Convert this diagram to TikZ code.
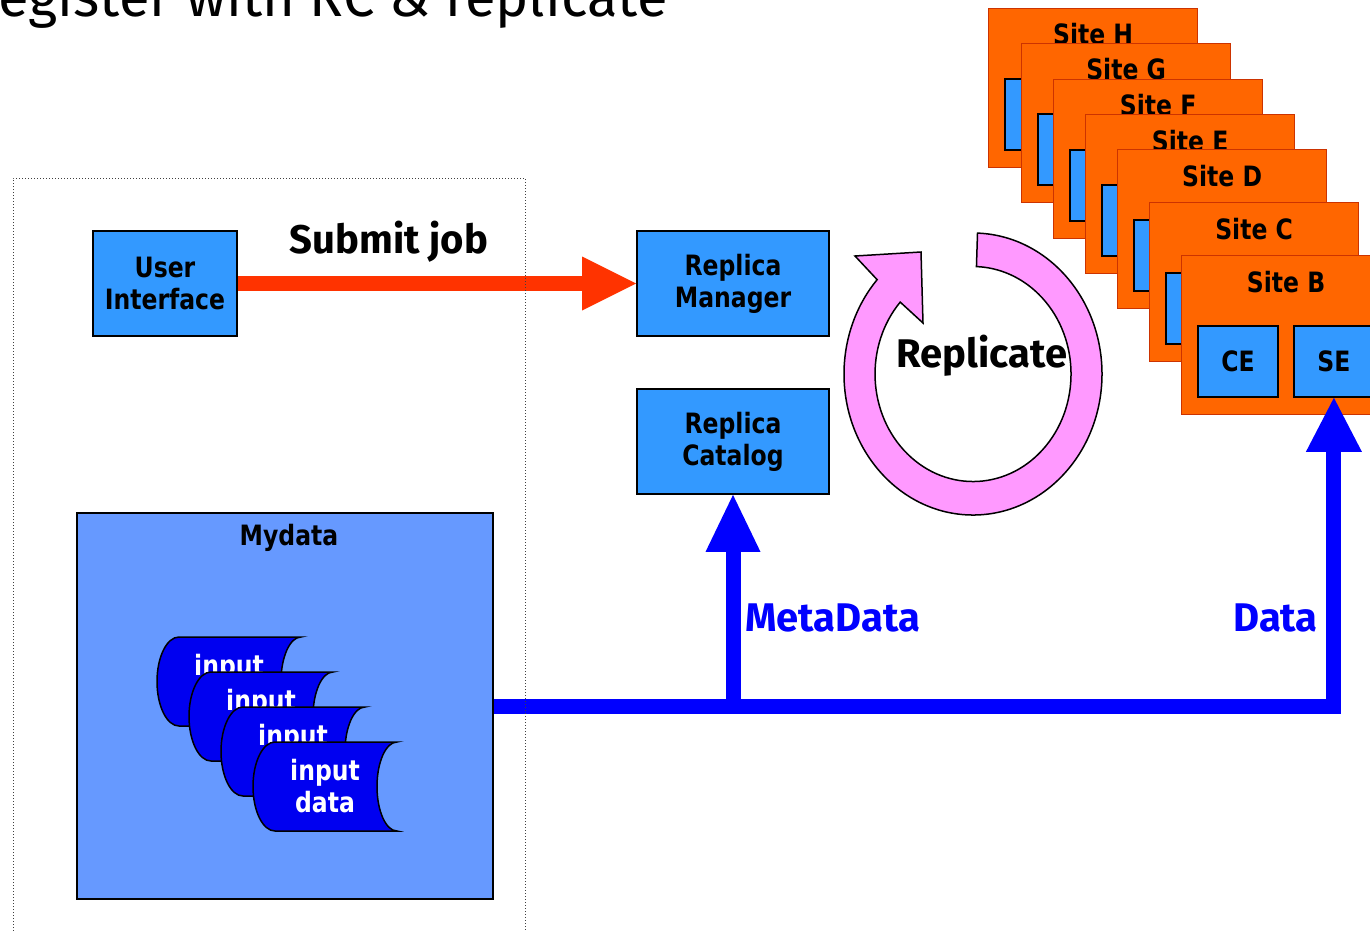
\documentclass[tikz,border=0pt]{standalone}
\usepackage{fontspec}
\usetikzlibrary{arrows.meta}
\newfontfamily\boxfont{DejaVu Sans}[FakeStretch=0.84]
\newfontfamily\comicfont{Fira Sans}
\definecolor{siteorange}{HTML}{FF6600}
\definecolor{siteedge}{HTML}{CC3300}
\definecolor{boxblue}{HTML}{3399FF}
\definecolor{mydatablue}{HTML}{6699FF}
\definecolor{pureblue}{HTML}{0000FF}
\definecolor{inblue}{HTML}{0000F0}
\definecolor{arrowred}{HTML}{FF3300}
\definecolor{ringpink}{HTML}{FF99FF}
\begin{document}
\begin{tikzpicture}[x=1pt,y=1pt,
  boxtext/.style={font=\boxfont\bfseries\fontsize{28}{32}\selectfont, align=center},
  bx/.style={boxtext, draw=black, line width=1.8pt, fill=boxblue, inner sep=0pt},
  sitebox/.style={draw=siteedge, line width=1.2pt, fill=siteorange, minimum width=209pt, minimum height=159pt, inner sep=0pt, anchor=north west},
  smallbox/.style={bx, minimum width=80pt, minimum height=71pt, anchor=north west},
  inshape/.style={draw=black, line width=1.5pt, fill=inblue},
  intext/.style={boxtext, text=white, inner sep=0pt},
  comic/.style={font=\comicfont\bfseries\fontsize{40}{44}\selectfont, inner sep=0pt},
  blueline/.style={draw=pureblue, line width=15pt, line join=miter},
  frame/.style={dotted, line width=1pt, black!75}
]
\useasboundingbox (0,-931) rectangle (1370,0);
\clip (0,-931) rectangle (1370,0);
\fill[white] (0,-931) rectangle (1370,0);

% title
\node[anchor=base west, font=\comicfont\fontsize{56}{60}\selectfont, inner sep=0pt] (title) at (-2,-17) {egister with RC \& replicate};

% boxes
\node[bx, minimum width=144pt, minimum height=105pt] (ui) at (165,-283.5) {User\\Interface};
\node[bx, minimum width=192pt, minimum height=105pt] (rm) at (733,-283.5) {Replica\\Manager};
\node[bx, minimum width=192pt, minimum height=105pt] (rc) at (733,-441.5) {Replica\\Catalog};

% Mydata
\node[draw=black, line width=1.8pt, fill=mydatablue, minimum width=416pt, minimum height=386pt, inner sep=0pt] (mydata) at (285,-706) {};
\node[boxtext, anchor=base, inner sep=0pt] (mydatalabel) at (289,-545) {Mydata};

\foreach \i in {0,...,3} {
  \pgfmathsetmacro\xo{157+32*\i}
  \pgfmathsetmacro\yo{-637-35*\i}
  \draw[inshape] (\xo+22,\yo) -- (\xo+144,\yo)
     arc[start angle=90,end angle=270,x radius=20,y radius=44.5]
     -- (\xo+22,\yo-89)
     arc[start angle=270,end angle=90,x radius=22,y radius=44.5] -- cycle;
  \node[intext] (in\i) at (\xo+72,\yo-44) {input\\data};
}

% sites
\foreach \s/\px/\py in {H/988/8, G/1021/43, F/1053/79, E/1085/114, D/1117/149, C/1149/202, B/1181/255} {
  \node[sitebox] (site\s) at (\px,-\py) {};
  \node[boxtext, anchor=base, inner sep=0pt] (lab\s) at ([yshift=-37pt]site\s.north) {Site \s};
  \node[smallbox] (ce\s) at ([shift={(16pt,-70pt)}]site\s.north west) {CE};
  \node[smallbox] (se\s) at ([shift={(112pt,-70pt)}]site\s.north west) {SE};
}

% submit job arrow
\draw[draw=arrowred, line width=15pt, -{Triangle[length=54pt,width=54pt,line width=0pt]}] (ui.east) -- (rm.west);
\node[comic, anchor=base] (submit) at (389,-253) {Submit job};

% data arrows
\draw[blueline, -{Triangle[length=54pt,width=56pt,line width=0pt]}] (mydata.east) -| (seB.south);
\draw[blueline, -{Triangle[length=57pt,width=55pt,line width=0pt]}] (rc.south |- mydata.east) -- (rc.south);
\node[comic, text=pureblue, anchor=base west] (meta) at (745,-631) {MetaData};
\node[comic, text=pureblue, anchor=base east] (data) at (1318,-631) {Data};

% replicate ring
\draw[fill=ringpink, draw=black, line width=1.5pt]
  (977.5,-233.1) arc[start angle=88, end angle=-222, x radius=129, y radius=141]
  -- (855,-256) -- (921,-252) -- (923,-323) -- (900.2,-302.1)
  arc[start angle=-222, end angle=88, x radius=98, y radius=107.5] -- cycle;
\node[comic, anchor=base] (replicate) at (982,-367) {Replicate};

% dotted frame
\draw[frame] (13,-940) -- (13,-178) -- (525,-178) -- (525,-940);
\end{tikzpicture}
\end{document}
